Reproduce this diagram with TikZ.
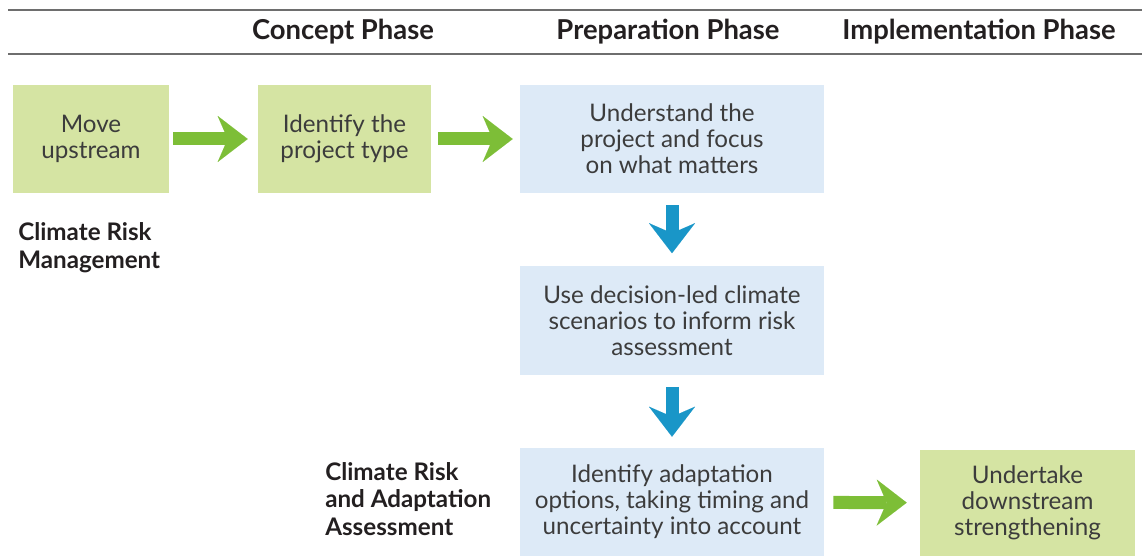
\documentclass[tikz,border=0pt]{standalone}
\usepackage{fontspec}
\setmainfont{Lato}
\usetikzlibrary{arrows.meta}
\definecolor{boxgreen}{RGB}{213,228,163}
\definecolor{boxblue}{RGB}{221,234,247}
\definecolor{arrowgreen}{RGB}{125,190,55}
\definecolor{arrowblue}{RGB}{25,150,200}
\definecolor{textgray}{RGB}{60,60,60}
\definecolor{labelblack}{RGB}{35,31,32}
\definecolor{rulegray}{RGB}{110,110,110}

\begin{document}
\begin{tikzpicture}[x=0.025cm,y=-0.025cm,
    stepbox/.style={inner sep=0,align=center,text=textgray,font=\fontsize{17.2}{18.5}\selectfont,minimum height=2.7cm},
    greenbox/.style={stepbox,fill=boxgreen},
    bluebox/.style={stepbox,fill=boxblue,minimum width=7.6cm},
    phase/.style={text=labelblack,font=\fontsize{19.5}{22}\selectfont\bfseries},
    sidelabel/.style={anchor=west,inner sep=0,align=left,text=labelblack,font=\fontsize{17.2}{19.8}\selectfont\bfseries},
    bigarrow/.style={line width=0.325cm,-{Stealth[length=0.75cm,width=1.15cm,inset=0.25cm,line width=0.01pt]}},
    garrow/.style={bigarrow,arrowgreen},
    barrow/.style={bigarrow,arrowblue}
  ]
    \useasboundingbox (0,0) rectangle (1142,556);
    \draw[rulegray,line width=0.05cm] (8,10) -- (1142,10);
    \draw[rulegray,line width=0.05cm] (8,54) -- (1142,54);
    \node[phase] (concept) at (343,32) {Concept Phase};
    \node[phase] (prep) at (668,32) {Preparation Phase};
    \node[phase] (impl) at (979,32) {Implementation Phase};

    \node[greenbox,minimum width=3.9cm] (move) at (91,139) {Move\\upstream};
    \node[greenbox,minimum width=4.325cm] (ident) at (344.5,139) {Identify the\\project type};
    \node[bluebox] (underst) at (672,139) {Understand the\\project and focus\\on what matters};
    \node[bluebox] (scen) at (672,320.5) {Use decision-led climate\\scenarios to inform risk\\assessment};
    \node[bluebox] (adapt) at (672,502) {Identify adaptation\\options, taking timing and\\uncertainty into account};
    \node[greenbox,minimum width=5.375cm,minimum height=2.65cm] (downstr) at (1027.5,503) {Undertake\\downstream\\strengthening};

    \node[sidelabel] (crm) at (18,248) {Climate Risk\\Management};
    \node[sidelabel] (craa) at (325,499) {Climate Risk\\and Adaptation\\Assessment};

    \draw[garrow,shorten <=0.1cm,shorten >=0.25cm] (move) -- (ident);
    \draw[garrow,shorten <=0.175cm,shorten >=0.175cm] (ident) -- (underst);
    \draw[barrow,shorten <=0.3cm,shorten >=0.325cm] (underst) -- (scen);
    \draw[barrow,shorten <=0.3cm,shorten >=0.275cm] (scen) -- (adapt);
    \draw[garrow,shorten <=0.225cm,shorten >=0.325cm] (adapt) -- (downstr);
\end{tikzpicture}
\end{document}
